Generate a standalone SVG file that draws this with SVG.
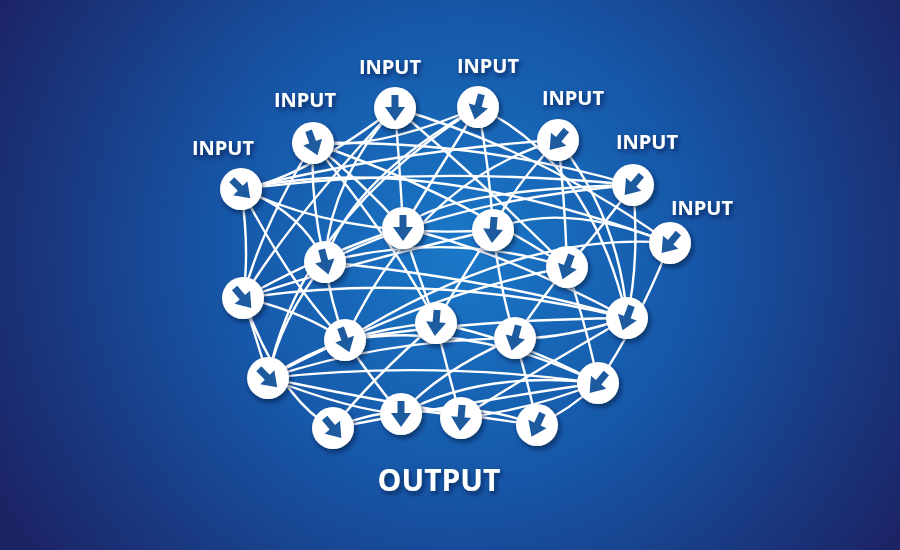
<svg xmlns="http://www.w3.org/2000/svg" width="900" height="550" viewBox="0 0 900 550">
<defs>
<radialGradient id="bg" cx="460" cy="250" r="520" gradientUnits="userSpaceOnUse">
<stop offset="0" stop-color="#1a78c8"/><stop offset="0.45" stop-color="#1657a8"/><stop offset="1" stop-color="#1c2466"/>
</radialGradient>
<filter id="sh" x="-50%" y="-50%" width="200%" height="200%"><feDropShadow dx="2" dy="3" stdDeviation="2.5" flood-color="#001030" flood-opacity="0.6"/></filter>
<g id="arw"><rect x="-3.5" y="-13" width="7" height="13" fill="#1d5a9e"/><polygon points="-10,-1 10,-1 0,13" fill="#1d5a9e"/></g>
</defs>
<style>
.e{fill:none;stroke:#fff;stroke-width:2.4}
.n{fill:#fff;filter:url(#sh)}
.t{font-family:"Open Sans","Liberation Sans",sans-serif;font-weight:700;fill:#fff;filter:url(#sh)}
</style>
<rect width="900" height="550" fill="url(#bg)"/>
<g id="connectors">
<path class="e" d="M241,189 Q420,150 670,243"/>
<path class="e" d="M241,189 Q430,165 633,185"/>
<path class="e" d="M241,189 Q300,210 325,262"/>
<path class="e" d="M241,189 Q350,240 493,230"/>
<path class="e" d="M241,189 Q250,250 243,298"/>
<path class="e" d="M241,189 Q300,300 345,340"/>
<path class="e" d="M313,143 Q480,140 633,185"/>
<path class="e" d="M313,143 Q360,180 403,228"/>
<path class="e" d="M313,143 Q450,190 567,267"/>
<path class="e" d="M313,143 Q310,200 325,262"/>
<path class="e" d="M313,143 Q260,230 243,298"/>
<path class="e" d="M313,143 Q400,250 436,323"/>
<path class="e" d="M395,108 Q300,180 241,189"/>
<path class="e" d="M395,108 Q400,170 403,228"/>
<path class="e" d="M395,108 Q470,170 567,267"/>
<path class="e" d="M395,108 Q540,150 670,243"/>
<path class="e" d="M395,108 Q330,180 325,262"/>
<path class="e" d="M395,108 Q290,220 243,298"/>
<path class="e" d="M478,107 Q490,170 493,230"/>
<path class="e" d="M478,107 Q380,150 313,143"/>
<path class="e" d="M478,107 Q350,180 325,262"/>
<path class="e" d="M478,107 Q590,160 627,318"/>
<path class="e" d="M478,107 Q420,200 403,228"/>
<path class="e" d="M478,107 Q300,220 268,378"/>
<path class="e" d="M558,140 Q400,150 241,189"/>
<path class="e" d="M558,140 Q510,190 493,230"/>
<path class="e" d="M558,140 Q565,200 567,267"/>
<path class="e" d="M558,140 Q620,220 627,318"/>
<path class="e" d="M558,140 Q420,180 345,340"/>
<path class="e" d="M633,185 Q440,190 403,228"/>
<path class="e" d="M633,185 Q600,230 567,267"/>
<path class="e" d="M633,185 Q640,260 627,318"/>
<path class="e" d="M633,185 Q450,200 325,262"/>
<path class="e" d="M670,243 Q560,200 493,230"/>
<path class="e" d="M670,243 Q640,320 598,383"/>
<path class="e" d="M670,243 Q520,230 345,340"/>
<path class="e" d="M325,262 Q450,230 567,267"/>
<path class="e" d="M325,262 Q500,280 627,318"/>
<path class="e" d="M325,262 Q330,300 345,340"/>
<path class="e" d="M325,262 Q280,320 268,378"/>
<path class="e" d="M403,228 Q330,250 243,298"/>
<path class="e" d="M403,228 Q420,280 436,323"/>
<path class="e" d="M403,228 Q500,250 627,318"/>
<path class="e" d="M493,230 Q500,290 515,338"/>
<path class="e" d="M493,230 Q360,260 243,298"/>
<path class="e" d="M493,230 Q460,280 436,323"/>
<path class="e" d="M567,267 Q540,300 515,338"/>
<path class="e" d="M567,267 Q590,340 598,383"/>
<path class="e" d="M567,267 Q450,290 345,340"/>
<path class="e" d="M243,298 Q430,270 627,318"/>
<path class="e" d="M243,298 Q300,310 345,340"/>
<path class="e" d="M243,298 Q260,350 268,378"/>
<path class="e" d="M243,298 Q280,400 333,428"/>
<path class="e" d="M345,340 Q470,320 598,383"/>
<path class="e" d="M345,340 Q380,390 401,414"/>
<path class="e" d="M345,340 Q300,360 268,378"/>
<path class="e" d="M436,323 Q520,340 598,383"/>
<path class="e" d="M436,323 Q450,380 461,418"/>
<path class="e" d="M436,323 Q370,380 333,428"/>
<path class="e" d="M436,323 Q340,330 268,378"/>
<path class="e" d="M515,338 Q530,390 537,425"/>
<path class="e" d="M515,338 Q440,370 401,414"/>
<path class="e" d="M515,338 Q380,340 268,378"/>
<path class="e" d="M627,318 Q560,340 515,338"/>
<path class="e" d="M627,318 Q520,380 461,418"/>
<path class="e" d="M627,318 Q460,320 345,340"/>
<path class="e" d="M268,378 Q430,360 598,383"/>
<path class="e" d="M268,378 Q350,410 401,414"/>
<path class="e" d="M268,378 Q420,410 537,425"/>
<path class="e" d="M598,383 Q480,400 333,428"/>
<path class="e" d="M598,383 Q530,410 461,418"/>
<path class="e" d="M598,383 Q570,410 537,425"/>
<path class="e" d="M598,383 Q480,370 401,414"/>
<path class="e" d="M333,428 Q400,400 461,418"/>
<path class="e" d="M401,414 Q470,400 537,425"/>
</g>
<g id="input-1"><circle class="n" cx="241" cy="189" r="21"/><use href="#arw" transform="translate(241,189) rotate(-45)"/></g>
<g id="input-2"><circle class="n" cx="313" cy="143" r="21"/><use href="#arw" transform="translate(313,143) rotate(-20)"/></g>
<g id="input-3"><circle class="n" cx="395" cy="108" r="21"/><use href="#arw" transform="translate(395,108)"/></g>
<g id="input-4"><circle class="n" cx="478" cy="107" r="21"/><use href="#arw" transform="translate(478,107) rotate(15)"/></g>
<g id="input-5"><circle class="n" cx="558" cy="140" r="21"/><use href="#arw" transform="translate(558,140) rotate(40)"/></g>
<g id="input-6"><circle class="n" cx="633" cy="185" r="21"/><use href="#arw" transform="translate(633,185) rotate(40)"/></g>
<g id="input-7"><circle class="n" cx="670" cy="243" r="21"/><use href="#arw" transform="translate(670,243) rotate(40)"/></g>
<g id="h1"><circle class="n" cx="325" cy="262" r="21"/><use href="#arw" transform="translate(325,262) rotate(-15)"/></g>
<g id="h2"><circle class="n" cx="403" cy="228" r="21"/><use href="#arw" transform="translate(403,228)"/></g>
<g id="h3"><circle class="n" cx="493" cy="230" r="21"/><use href="#arw" transform="translate(493,230) rotate(5)"/></g>
<g id="h4"><circle class="n" cx="567" cy="267" r="21"/><use href="#arw" transform="translate(567,267) rotate(20)"/></g>
<g id="h5"><circle class="n" cx="243" cy="298" r="21"/><use href="#arw" transform="translate(243,298) rotate(-40)"/></g>
<g id="h6"><circle class="n" cx="345" cy="340" r="21"/><use href="#arw" transform="translate(345,340) rotate(-20)"/></g>
<g id="h7"><circle class="n" cx="436" cy="323" r="21"/><use href="#arw" transform="translate(436,323) rotate(5)"/></g>
<g id="h8"><circle class="n" cx="515" cy="338" r="21"/><use href="#arw" transform="translate(515,338) rotate(15)"/></g>
<g id="h9"><circle class="n" cx="627" cy="318" r="21"/><use href="#arw" transform="translate(627,318) rotate(20)"/></g>
<g id="h10"><circle class="n" cx="268" cy="378" r="21"/><use href="#arw" transform="translate(268,378) rotate(-45)"/></g>
<g id="h11"><circle class="n" cx="598" cy="383" r="21"/><use href="#arw" transform="translate(598,383) rotate(40)"/></g>
<g id="out1"><circle class="n" cx="333" cy="428" r="21"/><use href="#arw" transform="translate(333,428) rotate(-40)"/></g>
<g id="out2"><circle class="n" cx="401" cy="414" r="21"/><use href="#arw" transform="translate(401,414)"/></g>
<g id="out3"><circle class="n" cx="461" cy="418" r="21"/><use href="#arw" transform="translate(461,418) rotate(5)"/></g>
<g id="out4"><circle class="n" cx="537" cy="425" r="21"/><use href="#arw" transform="translate(537,425) rotate(25)"/></g>
<g id="labels" font-size="20">
<text class="t" x="223" y="155" text-anchor="middle">INPUT</text>
<text class="t" x="305" y="107" text-anchor="middle">INPUT</text>
<text class="t" x="390" y="74" text-anchor="middle">INPUT</text>
<text class="t" x="488" y="73" text-anchor="middle">INPUT</text>
<text class="t" x="573" y="105" text-anchor="middle">INPUT</text>
<text class="t" x="647" y="149" text-anchor="middle">INPUT</text>
<text class="t" x="702" y="215" text-anchor="middle">INPUT</text>
<text class="t" x="439" y="491" text-anchor="middle" font-size="30">OUTPUT</text>
</g>
</svg>
